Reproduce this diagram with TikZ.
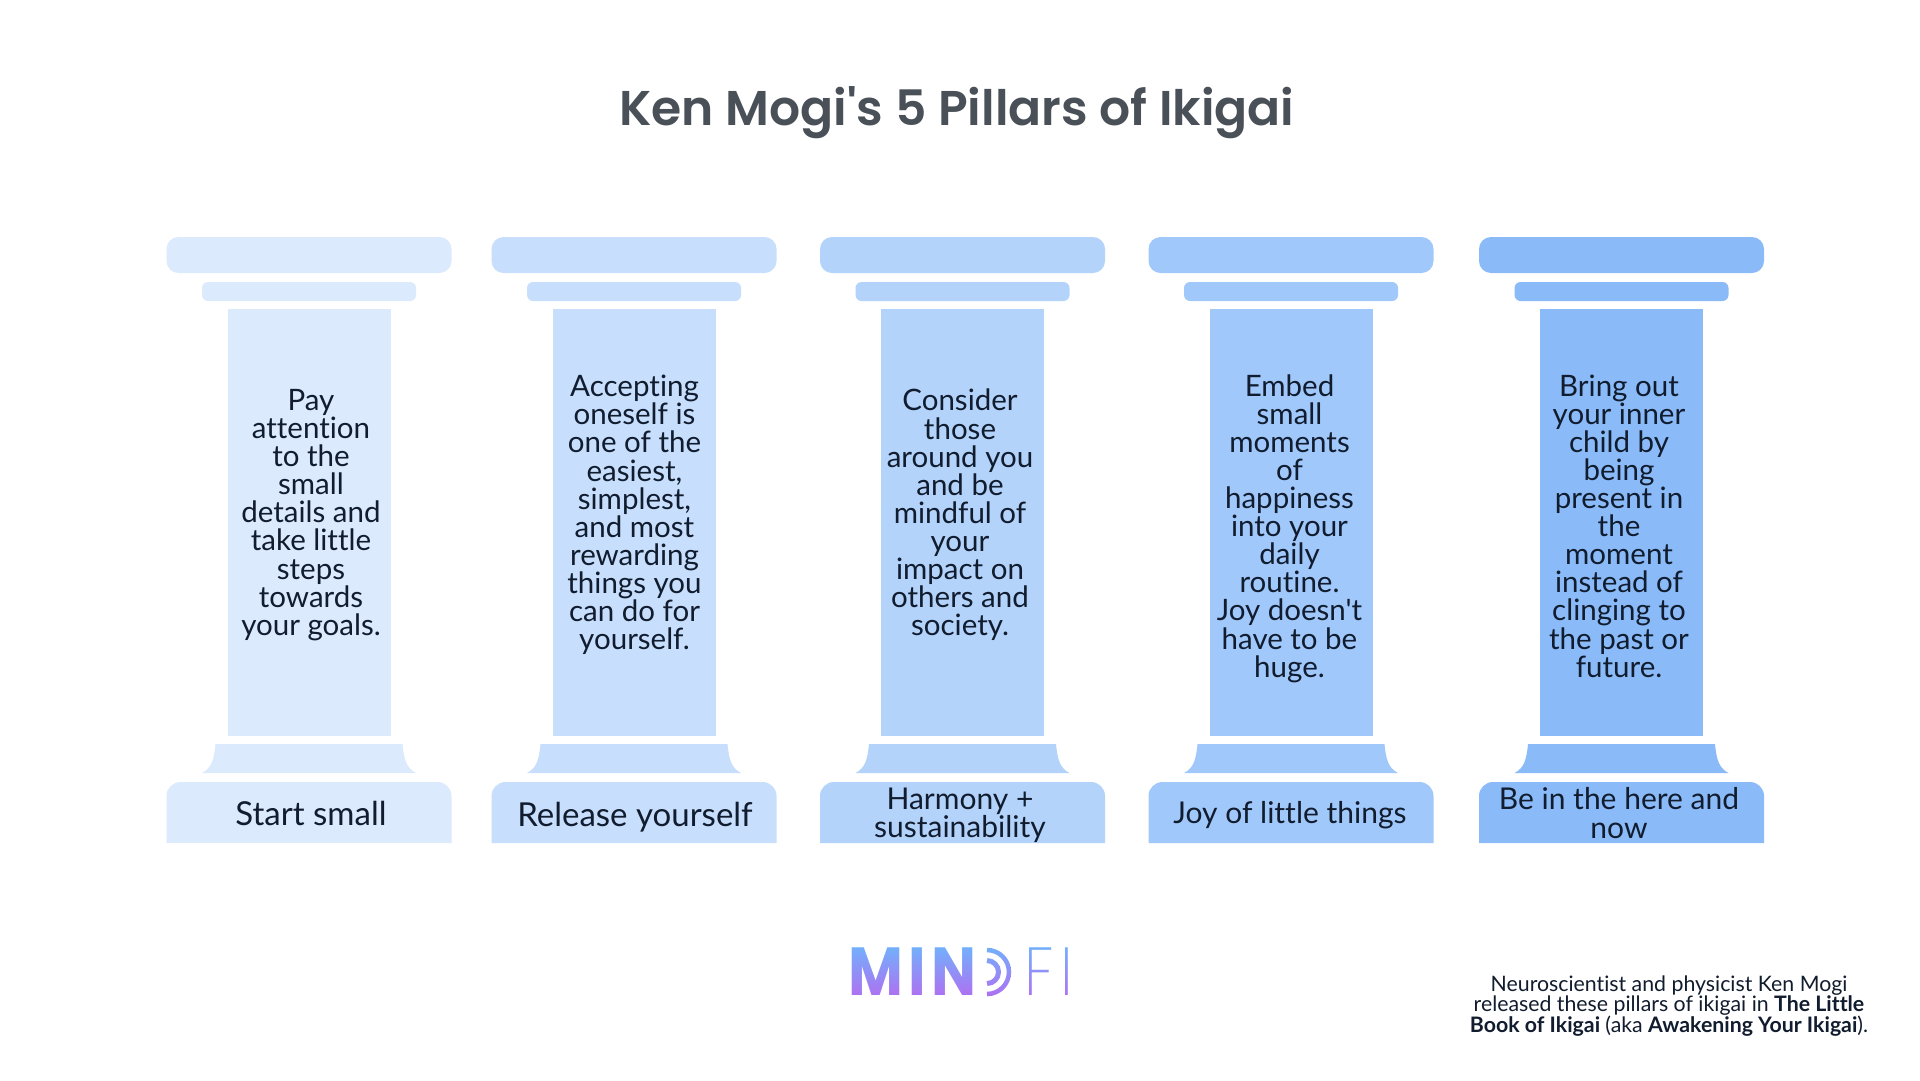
\documentclass[tikz,border=0pt]{standalone}
\usepackage{fontspec}
\setmainfont[Ligatures={TeXOff,NoCommon}]{Lato}
\newfontfamily\titlefont{Poppins SemiBold}
\newfontfamily\logofont[FakeStretch=0.88]{Poppins}
\newfontfamily\logothinfont[FakeStretch=0.9]{Poppins ExtraLight}

\definecolor{levelA}{HTML}{DCEAFE}
\definecolor{levelB}{HTML}{C7DFFD}
\definecolor{levelC}{HTML}{B3D3FA}
\definecolor{levelD}{HTML}{A0C8FB}
\definecolor{levelE}{HTML}{8ABBF8}
\definecolor{inkdark}{HTML}{111C2E}
\definecolor{titlegrey}{HTML}{495057}
\definecolor{logotop}{HTML}{6DB6FC}
\definecolor{logobottom}{HTML}{B569F0}

\begin{document}
\begin{tikzpicture}[x=1pt, y=-1pt, rounded corners=0pt,
    capbar/.style={rounded corners=12pt},
    neckbar/.style={rounded corners=6pt},
    basebar/.style={rounded corners=14pt},
    every node/.style={inner sep=0, align=center, text=inkdark},
    bodytext/.style={font=\fontsize{29.5}{28.1}\selectfont},
    nametext/.style={font=\fontsize{30}{28.1}\selectfont},
    bignametext/.style={font=\fontsize{33}{28.1}\selectfont},
    notetext/.style={font=\fontsize{21.3}{20}\selectfont},
    logobold/.style={text=black, font=\logofont\bfseries\fontsize{68}{68}\selectfont},
    logothin/.style={text=black, font=\logothinfont\fontsize{68}{68}\selectfont}]

\fill[white] (0,0) rectangle (1920,1080);
\useasboundingbox (0,0) rectangle (1920,1080);

% Title
\node[text=titlegrey, font=\titlefont\fontsize{48.8}{48}\selectfont] (title) at (957,113) {Ken Mogi's 5 Pillars of Ikigai};

% Pillar 1
\fill[levelA, capbar] (166.5,237) rectangle (451.5,273);
\fill[levelA, neckbar] (202,282) rectangle (416,301);
\fill[levelA] (227.5,309) rectangle (390.5,736);
\fill[levelA] (215.5,744) .. controls (214,760) and (211.5,768) .. (202,773) -- (416,773) .. controls (406.5,768) and (404,760) .. (402.5,744) -- cycle;
\fill[levelA] (166.5,843) [basebar] -- (166.5,782) -- (451.5,782) [rounded corners=0pt] -- (451.5,843) -- cycle;

% Pillar 2
\fill[levelB, capbar] (491.5,237) rectangle (776.5,273);
\fill[levelB, neckbar] (527,282) rectangle (741,301);
\fill[levelB] (552.5,309) rectangle (715.5,736);
\fill[levelB] (540.5,744) .. controls (539,760) and (536.5,768) .. (527,773) -- (741,773) .. controls (731.5,768) and (729,760) .. (727.5,744) -- cycle;
\fill[levelB] (491.5,843) [basebar] -- (491.5,782) -- (776.5,782) [rounded corners=0pt] -- (776.5,843) -- cycle;

% Pillar 3
\fill[levelC, capbar] (820,237) rectangle (1105,273);
\fill[levelC, neckbar] (855.5,282) rectangle (1069.5,301);
\fill[levelC] (881,309) rectangle (1044,736);
\fill[levelC] (869,744) .. controls (867.5,760) and (865,768) .. (855.5,773) -- (1069.5,773) .. controls (1060,768) and (1057.5,760) .. (1056,744) -- cycle;
\fill[levelC] (820,843) [basebar] -- (820,782) -- (1105,782) [rounded corners=0pt] -- (1105,843) -- cycle;

% Pillar 4
\fill[levelD, capbar] (1148.5,237) rectangle (1433.5,273);
\fill[levelD, neckbar] (1184,282) rectangle (1398,301);
\fill[levelD] (1209.5,309) rectangle (1372.5,736);
\fill[levelD] (1197.5,744) .. controls (1196,760) and (1193.5,768) .. (1184,773) -- (1398,773) .. controls (1388.5,768) and (1386,760) .. (1384.5,744) -- cycle;
\fill[levelD] (1148.5,843) [basebar] -- (1148.5,782) -- (1433.5,782) [rounded corners=0pt] -- (1433.5,843) -- cycle;

% Pillar 5
\fill[levelE, capbar] (1479,237) rectangle (1764,273);
\fill[levelE, neckbar] (1514.5,282) rectangle (1728.5,301);
\fill[levelE] (1540,309) rectangle (1703,736);
\fill[levelE] (1528,744) .. controls (1526.5,760) and (1524,768) .. (1514.5,773) -- (1728.5,773) .. controls (1719,768) and (1716.5,760) .. (1715,744) -- cycle;
\fill[levelE] (1479,843) [basebar] -- (1479,782) -- (1764,782) [rounded corners=0pt] -- (1764,843) -- cycle;

% Text inside the shafts
\node[bodytext] (bodyA) at (311,515) {Pay\\attention\\to the\\small\\details and\\take little\\steps\\towards\\your goals.};
\node[bodytext] (bodyB) at (634.5,515) {Accepting\\oneself is\\one of the\\easiest,\\simplest,\\and most\\rewarding\\things you\\can do for\\yourself.};
\node[bodytext] (bodyC) at (960,515) {Consider\\those\\around you\\and be\\mindful of\\your\\impact on\\others and\\society.};
\node[bodytext] (bodyD) at (1289.5,528.5) {Embed\\small\\moments\\of\\happiness\\into your\\daily\\routine.\\Joy doesn't\\have to be\\huge.};
\node[bodytext] (bodyE) at (1619,526) {Bring out\\your inner\\child by\\being\\present in\\the\\moment\\instead of\\clinging to\\the past or\\future.};

% Names on the bases
\node[bignametext] (nameA) at (311,813) {Start small};
\node[bignametext] (nameB) at (635,817) {Release yourself};
\node[nametext] (nameC) at (960,815) {Harmony +\\sustainability};
\node[nametext] (nameD) at (1290,815) {Joy of little things};
\node[nametext] (nameE) at (1619,813) {Be in the here and\\now};

% Logo letters in black, the gradient is screened over them
\node[logobold] (logoM) at (876,972) {M};
\node[logobold] (logoI) at (917,972) {I};
\node[logobold] (logoN) at (954,972) {N};
\draw[black, line width=4.5pt] (987,950) arc[start angle=90, end angle=-90, radius=22pt];
\draw[black, line width=5pt] (987,960.5) arc[start angle=90, end angle=-90, radius=11.5pt];
\node[logothin] (logoF) at (1039,972) {F};
\node[logothin] (logoJ) at (1067,972) {I};
\begin{scope}[blend mode=screen]
\shade[top color=logotop, bottom color=logobottom] (840,942) rectangle (1080,1002);
\end{scope}

% Note
\node[notetext] (note) at (1669,1006) {Neuroscientist and physicist Ken Mogi\\released these pillars of ikigai in \textbf{The Little}\\\textbf{Book of Ikigai} (aka \textbf{Awakening Your Ikigai}).};

\end{tikzpicture}
\end{document}
